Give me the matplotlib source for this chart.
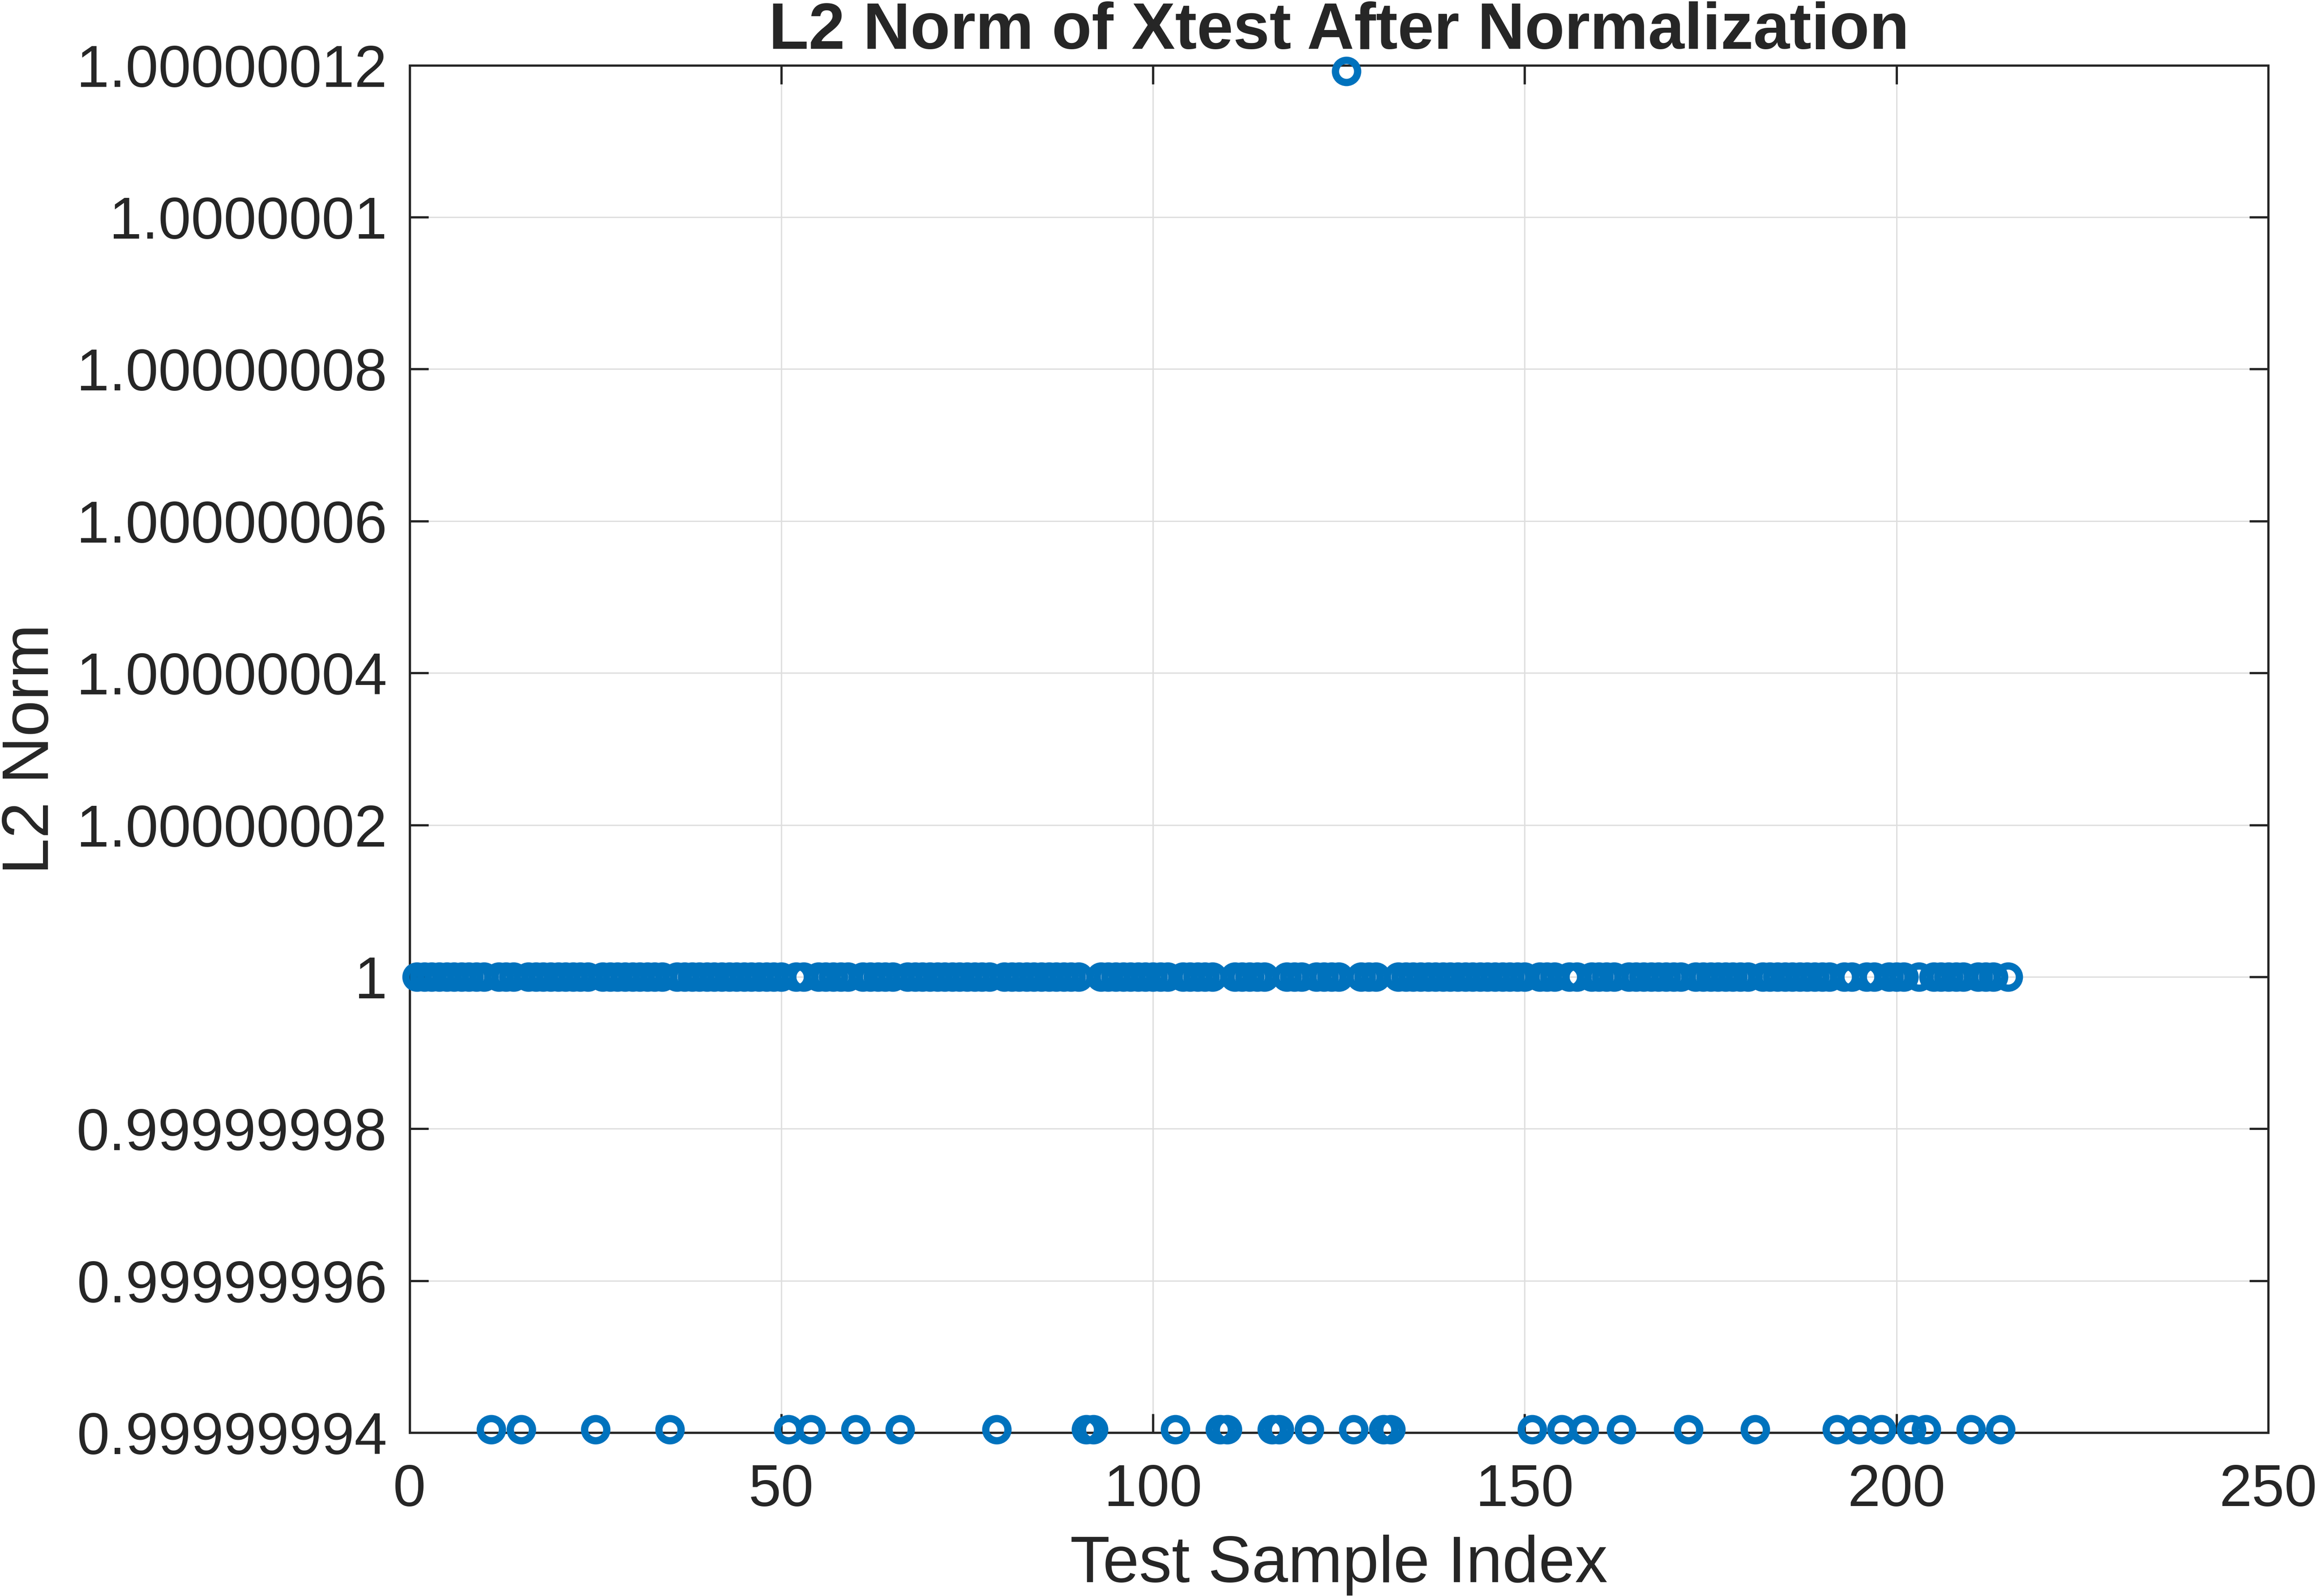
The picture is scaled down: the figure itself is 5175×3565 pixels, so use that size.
import numpy as np
import matplotlib
matplotlib.use("Agg")
import matplotlib.pyplot as plt
from matplotlib.ticker import FixedLocator, FixedFormatter

# ---- data ----
n_samples = 215                      # test sample indices 1..215
base_value = 1.0                     # most samples have L2 norm exactly 1
low_value = 0.9999999404             # float32 value just below 1
high_value = 1.0000001192            # float32 value just above 1
low_indices = [11, 15, 25, 35, 51, 54, 60, 66, 79, 91, 92, 103, 109, 110, 116,
               117, 121, 127, 131, 132, 151, 155, 158, 163, 172, 181, 192, 195,
               198, 202, 204, 210, 214]
high_indices = [126]

x_ticks = [0, 50, 100, 150, 200, 250]
y_ticks = [0.99999994, 0.99999996, 0.99999998, 1.0, 1.00000002, 1.00000004,
           1.00000006, 1.00000008, 1.0000001, 1.00000012]
y_tick_labels = ["0.99999994", "0.99999996", "0.99999998", "1", "1.00000002",
                 "1.00000004", "1.00000006", "1.00000008", "1.0000001",
                 "1.00000012"]

idx = np.arange(1, n_samples + 1)
norms = np.full(n_samples, base_value)
for i in low_indices:
    norms[i - 1] = low_value
for i in high_indices:
    norms[i - 1] = high_value

# ---- figure ----
plt.rcParams['font.family'] = ['Liberation Sans', 'DejaVu Sans']
W, H, DPI = 5175, 3565, 300
fig = plt.figure(figsize=(W / DPI, H / DPI), dpi=DPI)
fig.patch.set_facecolor('white')

left, right, top, bottom = 914.5, 5066.0, 145.7, 3200.0
ax = fig.add_axes([left / W, 1 - bottom / H, (right - left) / W, (bottom - top) / H])

txt = '#262626'
ax.plot(idx, norms, linestyle='none', marker='o', markerfacecolor='none',
        markeredgecolor='#0072BD', markersize=11.9, markeredgewidth=3.9,
        clip_on=False, zorder=3)

ax.set_xlim(0, 250)
ax.set_ylim(0.99999994, 1.00000012)
ax.xaxis.set_major_locator(FixedLocator(x_ticks))
ax.yaxis.set_major_locator(FixedLocator(y_ticks))
ax.yaxis.set_major_formatter(FixedFormatter(y_tick_labels))

ax.grid(True, color='#dedede', linewidth=0.7)
ax.set_axisbelow(True)

for s in ax.spines.values():
    s.set_color(txt)
    s.set_linewidth(1.2)

ax.tick_params(axis='both', which='both', direction='in', length=10, width=1.2,
               color=txt, labelcolor=txt, labelsize=31.5, top=True, right=True)
ax.tick_params(axis='x', pad=16.3)
ax.tick_params(axis='y', pad=11.9)

ax.set_xlabel('Test Sample Index', fontsize=35, color=txt)
ax.xaxis.set_label_coords(0.5, (bottom - 3534) / (bottom - top))
ax.xaxis.label.set_va('baseline')

ax.set_ylabel('L2 Norm', fontsize=35, color=txt)
ax.yaxis.set_label_coords((108 - left) / (right - left), 0.5)
ax.yaxis.label.set_va('baseline')

ax.set_title('L2 Norm of Xtest After Normalization', fontsize=35,
             fontweight='bold', color=txt, pad=0,
             y=1 + (top - 109) / (bottom - top))

fig.savefig('out.png', dpi=DPI, facecolor='white')
